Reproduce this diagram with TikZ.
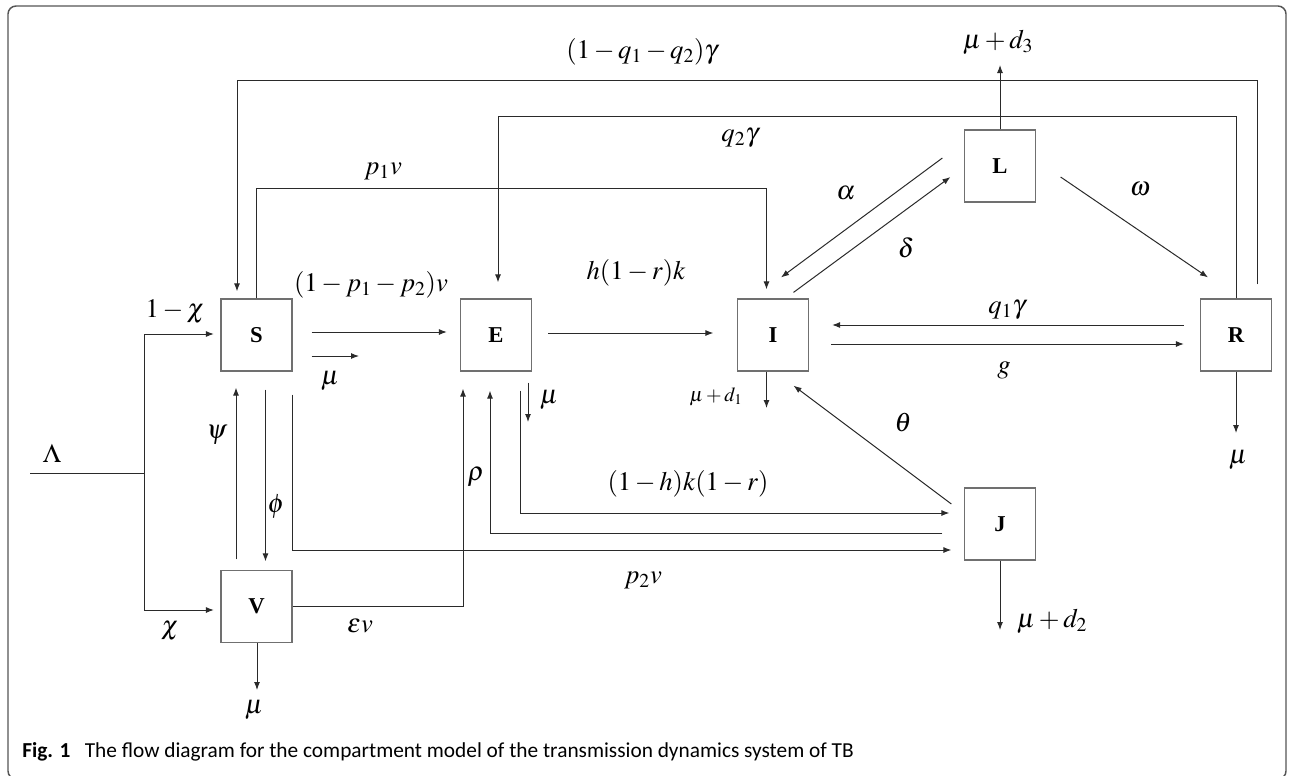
\documentclass[tikz,border=0pt]{standalone}
\usepackage{mathptmx}
\usepackage{fontspec}
\setmainfont{Liberation Serif}
\newfontfamily\capfont{Carlito}
\usetikzlibrary{arrows.meta,calc}
\definecolor{boxc}{HTML}{707070}
\definecolor{linec}{HTML}{2A2A2A}
\definecolor{framec}{HTML}{555555}
\begin{document}
\begin{tikzpicture}[x=0.75pt,y=-0.75pt,
  box/.style={draw=boxc,line width=0.9pt,minimum width=53.25pt,minimum height=54pt,inner sep=0pt,font=\fontsize{17}{20}\selectfont\bfseries},
  ln/.style={draw=linec,line width=0.75pt},
  arr/.style={ln,-{Latex[length=6pt,width=4.5pt]}},
  lab/.style={inner sep=0pt,font=\fontsize{20}{24}\selectfont},
  slab/.style={inner sep=0pt,font=\fontsize{15}{18}\selectfont}]
\useasboundingbox (0,0) rectangle (1292,775);
\draw[draw=framec,line width=1.1pt,rounded corners=6pt] (8,6) rectangle (1286,779);
% compartments
\node[box] (S) at (256.5,335) {S};
\node[box] (E) at (496,335) {E};
\node[box] (I) at (773,335) {I};
\node[box] (R) at (1236,335) {R};
\node[box] (L) at (1000,166) {L};
\node[box] (J) at (1000,524) {J};
\node[box] (V) at (256.5,606.5) {V};
% free ends
\coordinate (lam) at (30,473);
\coordinate (br) at (144,473);
\coordinate (muS) at (359,356);
\coordinate (muL) at (1000,65);
\coordinate (muR) at (1236,433);
\coordinate (muI) at (766.5,408);
\coordinate (muJ) at (1000,630);
\coordinate (muE) at (528,422);
\coordinate (muV) at (257,690);
% connectors
\draw[arr] ($(R.north)+(21,-14)$) -- ++(0,-204) -| ($(S.north)+(-19.5,-7)$);
\draw[arr] (R.north) -- ++(0,-182) -| ($(E.north)+(2,-16)$);
\draw[arr] (S.north) -- ++(0,-110) -| ($(I.north)+(-6.5,-9)$);
\draw[arr] ($(S.east)+(19,-3)$) -- ($(E.west)+(-13,-3)$);
\draw[arr] ($(S.east)+(19,21)$) -- (muS);
\draw[arr] ($(E.east)+(16,-2)$) -- ($(I.west)+(-23.5,-2)$);
\draw[arr] ($(I.east)+(22,9)$) -- ($(R.west)+(-16,9)$);
\draw[arr] ($(R.west)+(-16,-10)$) -- ($(I.east)+(23,-10)$);
\draw[arr] ($(L.west)+(-21.5,-8)$) -- ($(I.north)+(8,-21)$);
\draw[arr] ($(I.north)+(20.5,-6)$) -- ($(L.west)+(-13.5,11)$);
\draw[arr] ($(L.east)+(24.5,11)$) -- ($(R.north)+(-28,-21)$);
\draw[arr] (L.north) -- (muL);
\draw[arr] (R.south) -- (muR);
\draw[arr] ($(I.south)+(-6.5,0)$) -- (muI);
\draw[arr] ($(J.west)+(-12.5,-20)$) -- ($(I.south)+(20.5,14)$);
\draw[arr] (J.south) -- (muJ);
\draw[arr] ($(E.south)+(32,11)$) -- (muE);
\draw[arr] ($(E.south)+(24,19)$) |- ($(J.west)+(-14.5,-11)$);
\draw[arr] ($(J.west)+(-21.5,9)$) -| ($(E.south)+(-6,19)$);
\draw[arr] ($(S.south)+(36,23)$) |- ($(J.west)+(-12.5,26)$);
\draw[arr] (V.east) -| ($(E.south)+(-33,17)$);
\draw[ln] (lam) -- (br);
\draw[arr] (br) |- ($(S.west)+(-6.5,-1)$);
\draw[arr] (br) |- ($(V.west)+(-6.5,3.5)$);
\draw[arr] ($(V.north)+(-20.5,-10.5)$) -- ($(S.south)+(-20.5,16)$);
\draw[arr] ($(S.south)+(9,18)$) -- ($(V.north)+(9,-8.5)$);
\draw[arr] ($(V.south)+(0.5,0)$) -- (muV);
% labels
\node[lab] (l1) at (642,52) {$(1-q_1-q_2)\gamma$};
\node[lab] (l2) at (740,138) {$q_2\gamma$};
\node[lab] (l3) at (383,171) {$p_1v$};
\node[lab] (l4) at (371,285) {$(1-p_1-p_2)v$};
\node[lab] (l5) at (330,381) {$\mu$};
\node[lab] (l6) at (636,273) {$h(1-r)k$};
\node[lab] (l7) at (1004,370) {$g$};
\node[lab] (l8) at (1007,310) {$q_1\gamma$};
\node[lab] (l9) at (846,193) {$\alpha$};
\node[lab] (l10) at (906,248) {$\delta$};
\node[lab] (l11) at (1140,189) {$\omega$};
\node[lab] (l12) at (998,42) {$\mu+d_3$};
\node[lab] (l13) at (1238,460) {$\mu$};
\node[slab] (l14) at (716,397) {$\mu+d_1$};
\node[lab] (l15) at (903,423) {$\theta$};
\node[lab] (l16) at (1052,621) {$\mu+d_2$};
\node[lab] (l17) at (549,400) {$\mu$};
\node[lab] (l18) at (688,484) {$(1-h)k(1-r)$};
\node[lab] (l19) at (476,477) {$\rho$};
\node[lab] (l20) at (643,580) {$p_2v$};
\node[lab] (l21) at (360,626) {$\varepsilon v$};
\node[lab] (l22) at (52,453) {$\Lambda$};
\node[lab] (l23) at (175,312) {$1-\chi$};
\node[lab] (l24) at (170,631) {$\chi$};
\node[lab] (l25) at (217,435) {$\psi$};
\node[lab] (l26) at (276,507) {$\phi$};
\node[lab] (l27) at (254,710) {$\mu$};
\node[anchor=base west,inner sep=0pt,font=\capfont\fontsize{16}{18}\selectfont] (cap) at (22,757) {\textbf{Fig. 1}\hspace{0.45em} The flow diagram for the compartment model of the transmission dynamics system of TB};
\end{tikzpicture}
\end{document}
